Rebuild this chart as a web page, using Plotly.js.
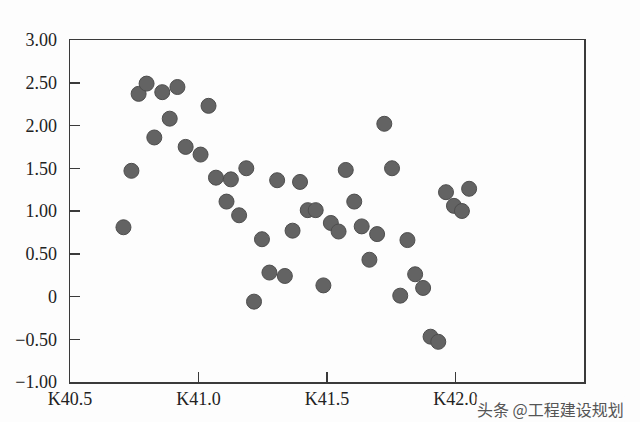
<!DOCTYPE html>
<html>
<head>
<meta charset="utf-8">
<script src="https://cdn.plot.ly/plotly-3.0.1.min.js"></script>
<style>html,body{margin:0;padding:0;background:#fdfdfd;}</style>
</head>
<body>
<div id="chart" style="width:640px;height:422px;"></div>
<script>
// Station (km) and value
const stations = [40.708, 40.739, 40.767, 40.798, 40.828, 40.859, 40.888, 40.918, 40.950, 41.008,
  41.039, 41.068, 41.109, 41.126, 41.158, 41.186, 41.216, 41.247, 41.276, 41.306,
  41.336, 41.366, 41.395, 41.425, 41.456, 41.486, 41.515, 41.545, 41.573, 41.606,
  41.635, 41.665, 41.695, 41.723, 41.753, 41.785, 41.813, 41.843, 41.874, 41.903,
  41.933, 41.963, 41.994, 42.025, 42.053];
const values = [0.81, 1.47, 2.37, 2.49, 1.86, 2.39, 2.08, 2.45, 1.75, 1.66,
  2.23, 1.39, 1.11, 1.37, 0.95, 1.50, -0.06, 0.67, 0.28, 1.36,
  0.24, 0.77, 1.34, 1.01, 1.01, 0.13, 0.86, 0.76, 1.48, 1.11,
  0.82, 0.43, 0.73, 2.02, 1.50, 0.01, 0.66, 0.26, 0.10, -0.47,
  -0.53, 1.22, 1.06, 1.00, 1.26];
const xTickVals = [40.5, 41.0, 41.5, 42.0];
const xTickText = ['K40.5', 'K41.0', 'K41.5', 'K42.0'];
const yTickVals = [-1, -0.5, 0, 0.5, 1, 1.5, 2, 2.5, 3];
const yTickText = ['\u22121.00', '\u22120.50', '0', '0.50', '1.00', '1.50', '2.00', '2.50', '3.00'];
const watermark = '头条 @工程建设规划';

const trace = {
  type: 'scatter', mode: 'markers', x: stations, y: values,
  marker: {size: 15, color: '#636363', line: {color: '#4e4e4e', width: 1}},
  hoverinfo: 'none'
};
const axisCommon = {
  showgrid: false, zeroline: false, showline: true, mirror: true,
  linecolor: '#3a3a3a', linewidth: 1.5, ticks: 'inside', ticklen: 10,
  tickcolor: '#3a3a3a', tickwidth: 1.5,
  tickfont: {family: 'Liberation Serif, Times New Roman, serif', size: 18, color: '#222'}
};
const layout = {
  width: 640, height: 422,
  margin: {l: 70, r: 56, t: 40, b: 40},
  paper_bgcolor: '#fdfdfd', plot_bgcolor: '#fdfdfd',
  showlegend: false,
  xaxis: Object.assign({}, axisCommon, {range: [40.5, 42.5], tickmode: 'array', tickvals: xTickVals, ticktext: xTickText}),
  yaxis: Object.assign({}, axisCommon, {range: [-1, 3], tickmode: 'array', tickvals: yTickVals, ticktext: yTickText, ticklabelstandoff: 8}),
  annotations: [{
    text: watermark, xref: 'paper', yref: 'paper', x: 1.08, y: -0.08,
    xanchor: 'right', yanchor: 'middle', showarrow: false,
    font: {family: 'Noto Sans CJK SC', size: 16, color: '#555'},
    bgcolor: 'rgba(253,253,253,0.9)', borderpad: 0
  }]
};
Plotly.newPlot('chart', [trace], layout, {displayModeBar: false, staticPlot: true});
</script>
</body>
</html>
